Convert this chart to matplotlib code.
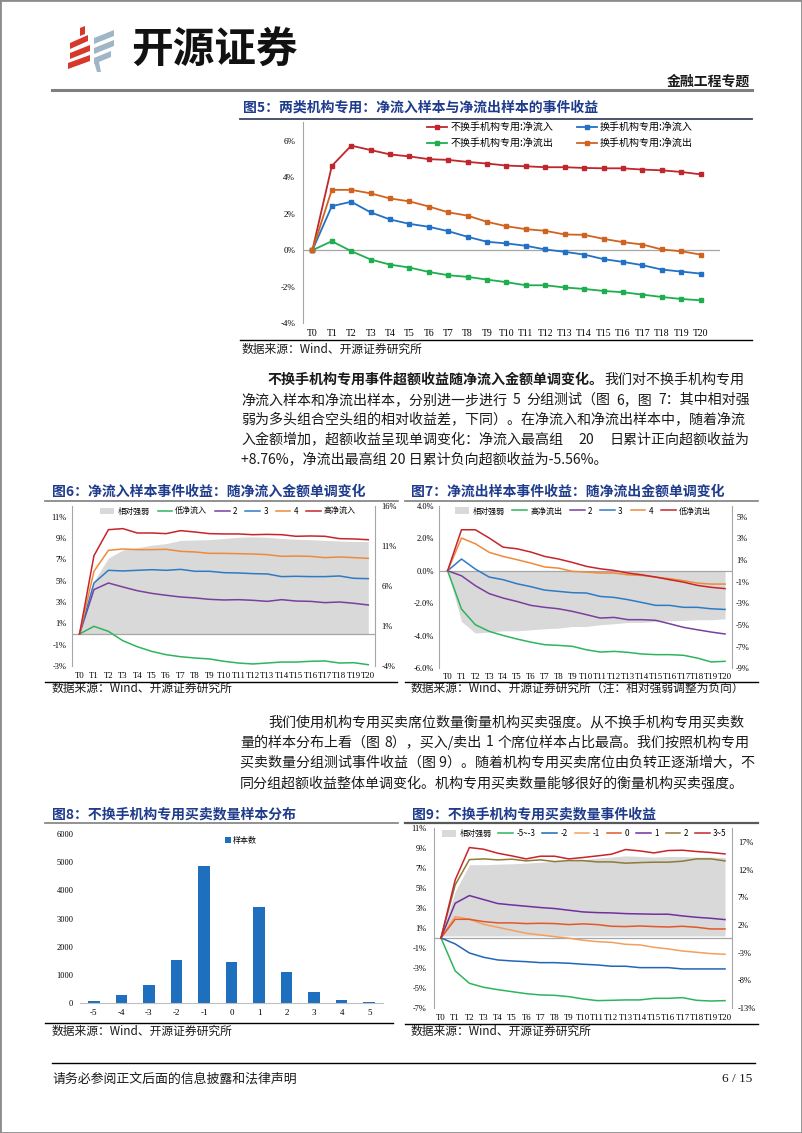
import matplotlib
matplotlib.use('Agg')
import matplotlib.pyplot as plt
from matplotlib.patches import Polygon, Rectangle, Patch
from matplotlib.lines import Line2D

plt.rcParams['font.family'] = ['Noto Sans CJK SC', 'DejaVu Sans']
plt.rcParams['axes.unicode_minus'] = False

W, H = 802, 1133
SERIF = ['Liberation Serif', 'DejaVu Serif']
NAVY = '#1F3B8C'
AXC = '#A6A6A6'
FILL = '#D9D9D9'
TXT = '#1A1A1A'
BODY = 10.1

# ==========================================
# 数据
# ==========================================
t_labels = [f'T{i}' for i in range(21)]

# 图5
f5_labels = ['不换手机构专用:净流入', '不换手机构专用:净流出', '换手机构专用:净流入', '换手机构专用:净流出']
f5_nochg_in = [0, 4.61, 5.72, 5.48, 5.24, 5.13, 4.98, 4.94, 4.83, 4.74, 4.63, 4.59, 4.54, 4.54, 4.50, 4.48, 4.48, 4.41, 4.37, 4.28, 4.15]
f5_nochg_out = [0, 0.49, -0.05, -0.51, -0.79, -0.95, -1.19, -1.37, -1.46, -1.61, -1.75, -1.92, -1.92, -2.04, -2.12, -2.23, -2.30, -2.43, -2.56, -2.67, -2.74]
f5_chg_in = [0, 2.41, 2.65, 2.07, 1.68, 1.44, 1.28, 1.04, 0.73, 0.46, 0.37, 0.24, 0.04, -0.09, -0.24, -0.49, -0.64, -0.82, -1.06, -1.17, -1.28]
f5_chg_out = [0, 3.30, 3.30, 3.11, 2.83, 2.67, 2.39, 2.07, 1.89, 1.55, 1.31, 1.15, 1.06, 0.86, 0.84, 0.62, 0.44, 0.31, 0.04, -0.06, -0.24]

# 图6 净流入分组
f6_labels = ['相对强弱', '低净流入', '2', '3', '4', '高净流入']
f6_spread = [0, 6.6, 9.5, 10.5, 10.8, 11.1, 11.3, 11.7, 11.75, 11.8, 11.93, 12.09, 12.15, 12.09, 11.93, 11.84, 11.8, 11.7, 11.62, 11.57, 11.55]
f6_low = [0, 0.72, 0.25, -0.63, -1.19, -1.63, -1.94, -2.13, -2.25, -2.34, -2.56, -2.72, -2.81, -2.72, -2.63, -2.63, -2.56, -2.53, -2.72, -2.69, -2.88]
f6_g2 = [0, 4.16, 4.78, 4.41, 4.06, 3.81, 3.63, 3.47, 3.38, 3.25, 3.19, 3.22, 3.16, 3.06, 3.22, 3.09, 3.06, 2.94, 3.00, 2.88, 2.72]
f6_g3 = [0, 4.78, 5.97, 5.91, 5.97, 6.03, 5.97, 6.06, 5.88, 5.88, 5.75, 5.72, 5.66, 5.63, 5.38, 5.41, 5.38, 5.38, 5.44, 5.22, 5.19]
f6_g4 = [0, 5.88, 7.84, 7.97, 7.91, 7.91, 7.94, 7.75, 7.69, 7.56, 7.56, 7.53, 7.50, 7.44, 7.28, 7.31, 7.28, 7.16, 7.22, 7.16, 7.09]
f6_high = [0, 7.34, 9.78, 9.88, 9.47, 9.47, 9.41, 9.69, 9.56, 9.41, 9.38, 9.38, 9.31, 9.34, 9.31, 9.16, 9.19, 9.16, 8.94, 8.91, 8.84]

# 图7 净流出分组
f7_labels = ['相对强弱', '高净流出', '2', '3', '4', '低净流出']
f7_spread = [0, -4.68, -5.75, -5.66, -5.54, -5.54, -5.45, -5.35, -5.29, -5.14, -5.14, -4.98, -4.89, -4.77, -4.77, -4.68, -4.62, -4.58, -4.52, -4.52, -4.43]
f7_high = [0, -2.36, -3.32, -3.73, -3.98, -4.20, -4.39, -4.55, -4.59, -4.65, -4.86, -5.00, -4.96, -5.02, -5.12, -5.16, -5.16, -5.20, -5.37, -5.61, -5.57]
f7_g2 = [0, -0.31, -0.92, -1.41, -1.68, -1.89, -2.13, -2.25, -2.34, -2.50, -2.70, -2.91, -2.87, -3.01, -3.01, -3.05, -3.26, -3.48, -3.63, -3.77, -3.89]
f7_g3 = [0, 0.72, 0.10, -0.39, -0.55, -0.80, -0.98, -1.19, -1.27, -1.35, -1.37, -1.58, -1.64, -1.78, -1.95, -2.13, -2.13, -2.25, -2.25, -2.34, -2.38]
f7_g4 = [0, 2.01, 1.66, 1.13, 0.88, 0.68, 0.47, 0.23, 0.16, -0.04, -0.08, -0.14, -0.14, -0.25, -0.29, -0.39, -0.49, -0.61, -0.76, -0.82, -0.82]
f7_low = [0, 2.52, 2.52, 2.01, 1.45, 1.35, 1.15, 0.88, 0.72, 0.51, 0.27, 0.12, 0.02, -0.14, -0.25, -0.39, -0.55, -0.70, -0.90, -1.02, -1.10]

# 图8 买卖数量样本分布
f8_cats = ['-5', '-4', '-3', '-2', '-1', '0', '1', '2', '3', '4', '5']
f8_counts = [60, 273, 618, 1532, 4858, 1437, 3408, 1081, 380, 107, 36]

# 图9 买卖数量分组
f9_labels = ['相对强弱', '-5~-3', '-2', '-1', '0', '1', '2', '3~5']
f9_spread = [0, 8.05, 12.9, 12.9, 13.0, 13.07, 13.19, 13.37, 13.49, 13.6, 13.79, 14.1, 14.28, 14.52, 14.4, 14.28, 14.4, 14.4, 14.28, 14.28, 14.22]
f9_m5 = [0, -3.31, -4.55, -4.95, -5.19, -5.39, -5.59, -5.72, -5.76, -5.89, -6.12, -6.29, -6.26, -6.22, -6.22, -6.06, -6.06, -5.99, -6.26, -6.33, -6.29]
f9_m2 = [0, -0.60, -1.51, -1.94, -2.21, -2.31, -2.38, -2.48, -2.48, -2.54, -2.64, -2.71, -2.84, -2.84, -2.98, -2.98, -2.98, -3.11, -3.11, -3.11, -3.11]
f9_m1 = [0, 2.14, 1.87, 1.37, 1.07, 0.77, 0.47, 0.30, 0.13, -0.03, -0.23, -0.37, -0.44, -0.64, -0.70, -0.94, -1.10, -1.31, -1.44, -1.57, -1.64]
f9_z0 = [0, 1.87, 1.87, 1.64, 1.51, 1.51, 1.44, 1.47, 1.44, 1.34, 1.41, 1.34, 1.17, 1.14, 1.20, 1.14, 1.10, 1.17, 1.07, 0.90, 0.90]
f9_p1 = [0, 3.48, 4.25, 3.85, 3.45, 3.31, 3.18, 3.05, 2.95, 2.78, 2.61, 2.54, 2.51, 2.44, 2.41, 2.38, 2.38, 2.21, 2.07, 1.97, 1.84]
f9_p2 = [0, 5.32, 7.86, 7.93, 7.83, 7.90, 7.73, 7.83, 7.66, 7.76, 7.76, 7.63, 7.63, 7.50, 7.56, 7.60, 7.60, 7.70, 7.93, 7.93, 7.73]
f9_p35 = [0, 5.82, 9.07, 8.90, 8.50, 8.23, 7.93, 8.20, 8.20, 7.93, 8.07, 8.23, 8.40, 8.87, 8.73, 8.53, 8.77, 8.80, 8.67, 8.57, 8.43]

# ==========================================
# 辅助函数 (像素坐标 -> figure 坐标)
# ==========================================
fig = plt.figure(figsize=(W / 100, H / 100), dpi=100)
renderer = fig.canvas.get_renderer()


def fx(x):
    return x / W


def fy(y):
    return 1 - y / H


def px_rect(x0, y0, x1, y1):
    return [x0 / W, 1 - y1 / H, (x1 - x0) / W, (y1 - y0) / H]


def ftext(x, y, s, **kw):
    kw.setdefault('va', 'center')
    kw.setdefault('color', TXT)
    return fig.text(fx(x), fy(y), s, **kw)


def hline(x0, x1, y, color='black', lw=1.0):
    fig.add_artist(Line2D([fx(x0), fx(x1)], [fy(y), fy(y)], transform=fig.transFigure, color=color, lw=lw))


def para_line(x0, x1, y, text, size=BODY, justify=True):
    # 按空格拆段，两端对齐；放不下就按原样输出
    segs = text.split(' ')
    if not justify or len(segs) == 1:
        ftext(x0, y, text, fontsize=size)
        return
    items = []
    for s in segs:
        t = ftext(x0, y, s, fontsize=size)
        items.append((t, t.get_window_extent(renderer).width))
    gap = (x1 - x0 - sum(w for _, w in items)) / (len(items) - 1)
    if gap < 3:
        for t, _ in items:
            t.remove()
        ftext(x0, y, text, fontsize=size)
        return
    x = x0
    for t, w in items:
        t.set_x(fx(x))
        x += w + gap


def style_axes(ax, xlim, ylim, yticks, fmt, ysize, xsize, xpad, ypad, left=True):
    ax.set_xlim(*xlim)
    ax.set_ylim(*ylim)
    ax.set_yticks(yticks, labels=[fmt(v) for v in yticks], fontsize=ysize, fontfamily=SERIF)
    ax.set_xticks(range(21), labels=t_labels, fontsize=xsize, fontfamily=SERIF)
    ax.tick_params(length=0)
    ax.tick_params(axis='x', pad=xpad)
    ax.tick_params(axis='y', pad=ypad)
    for s in ['top', 'right', 'bottom']:
        ax.spines[s].set_visible(False)
    ax.spines['left'].set_visible(left)
    ax.spines['left'].set_color(AXC)
    ax.axhline(0, color=AXC, lw=0.9, zorder=1)


def style_right(axr, ylim, yticks, fmt, size, pad):
    axr.set_ylim(*ylim)
    axr.set_yticks(yticks, labels=[fmt(v) for v in yticks], fontsize=size, fontfamily=SERIF)
    axr.tick_params(length=0, pad=pad)
    for s in ['top', 'left', 'bottom']:
        axr.spines[s].set_visible(False)
    axr.spines['right'].set_color(AXC)


pct0 = lambda v: f'{v:.0f}%'
pct1 = lambda v: f'{v:.1f}%'

# ==========================================
# 页眉 / 页脚 / 边框
# ==========================================
fig.add_artist(Rectangle((0, 0), 1, 1, transform=fig.transFigure, fill=False, edgecolor='#8C8C8C', lw=2))

red_strips = [[(70, 43), (88, 35), (88, 41), (70, 49)],
              [(70, 53), (90, 45), (90, 51), (70, 59)],
              [(68, 63), (90, 55), (90, 61), (68, 69)],
              [(80, 28), (85, 26), (85, 34), (80, 36)]]
blue_strips = [[(94, 38), (114, 30), (114, 36), (94, 44)],
               [(94, 48), (114, 40), (114, 46), (94, 54)],
               [(94, 58), (111, 51), (111, 57), (94, 64)],
               [(94, 62), (99, 62), (101, 72), (97, 72)]]
for pts in red_strips:
    fig.add_artist(Polygon([(fx(x), fy(y)) for x, y in pts], closed=True, transform=fig.transFigure, color='#D8372C', lw=0))
for pts in blue_strips:
    fig.add_artist(Polygon([(fx(x), fy(y)) for x, y in pts], closed=True, transform=fig.transFigure, color='#9FB6C6', lw=0))
ftext(131, 51, '开源证券', fontsize=30, fontweight='bold', color='#111111')
ftext(750, 82, '金融工程专题', fontsize=10, fontweight='bold', ha='right')
hline(52, 752, 89.5, color='#7F7F7F', lw=2.2)

hline(52, 755, 1063, color='black', lw=1.0)
ftext(52, 1079, '请务必参阅正文后面的信息披露和法律声明', fontsize=9.3)
ftext(752, 1079, '6 / 15', fontsize=9.5, ha='right', fontfamily=SERIF)

# ==========================================
# 图5
# ==========================================
ftext(243, 108, '图5：两类机构专用：净流入样本与净流出样本的事件收益', fontsize=10, fontweight='bold', color=NAVY)
hline(240, 752, 118.5, color='#3A4560', lw=1.3)

ax5 = fig.add_axes(px_rect(302.7, 122.25, 720, 323.3))
ax5.patch.set_visible(False)
f5_series = [f5_nochg_in, f5_nochg_out, f5_chg_in, f5_chg_out]
f5_colors = ['#C0262D', '#1FAE4F', '#2271C4', '#CF6420']
for vals, lab, c in zip(f5_series, f5_labels, f5_colors):
    ax5.plot(range(21), vals, color=c, lw=1.3, marker='s', ms=2.8, label=lab, zorder=3)
style_axes(ax5, (-0.5, 21), (-4, 7), [-4, -2, 0, 2, 4, 6], pct0, 6.5, 7, 4.3, 5.5)
ax5.legend(ncol=2, loc='upper right', bbox_to_anchor=((693 - 302.7) / 417.3, 1.0), frameon=False,
           fontsize=7.2, handlelength=2.0, columnspacing=2.4, handletextpad=0.3, labelspacing=0.6,
           borderaxespad=0, borderpad=0)

hline(240, 752, 340.5)
ftext(242, 349, '数据来源：Wind、开源证券研究所', fontsize=8.5)

# ==========================================
# 正文段落 1
# ==========================================
t_bold = ftext(268, 380, '不换手机构专用事件超额收益随净流入金额单调变化。', fontsize=BODY, fontweight='bold')
wb = t_bold.get_window_extent(renderer).width
ftext(268 + wb, 380, '我们对不换手机构专用', fontsize=BODY)
para_line(241, 750, 400, '净流入样本和净流出样本，分别进一步进行 5 分组测试（图 6，图 7：其中相对强')
para_line(241, 750, 420, '弱为多头组合空头组的相对收益差，下同）。在净流入和净流出样本中，随着净流')
para_line(241, 750, 440, '入金额增加，超额收益呈现单调变化：净流入最高组 20 日累计正向超额收益为')
para_line(241, 750, 460, '+8.76%，净流出最高组 20 日累计负向超额收益为-5.56%。', justify=False)

# ==========================================
# 图6 / 图7
# ==========================================
line_cols = ['#2DB55D', '#7B3F9E', '#2E7BC4', '#EE8A3C', '#C8242B']


def event_panel(rect, spread, series, labels, xlim, lylim, lticks, lfmt, rylim, rticks, lpad, rpad, xpad, legx, legy):
    ax = fig.add_axes(rect)
    axr = ax.twinx()
    axr.fill_between(range(21), 0, spread, color=FILL, lw=0)
    ax.set_zorder(axr.get_zorder() + 1)
    ax.patch.set_visible(False)
    handles = [Patch(facecolor=FILL, edgecolor='none')]
    for vals, c in zip(series, line_cols):
        h, = ax.plot(range(21), vals, color=c, lw=1.1, zorder=3)
        handles.append(h)
    style_axes(ax, xlim, lylim, lticks, lfmt, 6, 6.3, xpad, lpad)
    style_right(axr, rylim, rticks, pct0, 6, rpad)
    ax.legend(handles, labels, ncol=len(labels), loc='upper center', bbox_to_anchor=(legx, legy),
              frameon=False, fontsize=5.8, handlelength=1.8, handleheight=0.9, columnspacing=1.0,
              handletextpad=0.4, borderaxespad=0, borderpad=0)
    return ax


ftext(52, 491.7, '图6：净流入样本事件收益：随净流入金额单调变化', fontsize=10, fontweight='bold', color=NAVY)
hline(45, 398, 501, color='#7F7F7F', lw=1.2)
event_panel(px_rect(72.3, 506, 375.5, 666), f6_spread, [f6_low, f6_g2, f6_g3, f6_g4, f6_high], f6_labels,
            (-0.5, 20.5), (-3, 12), [-3, -1, 1, 3, 5, 7, 9, 11], pct0, (-4, 16), [-4, 1, 6, 11, 16],
            4.0, 4.5, 4.0, 0.513, 0.995)
hline(45, 397, 681.5)
ftext(52, 688.5, '数据来源：Wind、开源证券研究所', fontsize=8.5)

ftext(411, 491.7, '图7：净流出样本事件收益：随净流出金额单调变化', fontsize=10, fontweight='bold', color=NAVY)
hline(405, 758, 501, color='#7F7F7F', lw=1.2)
event_panel(px_rect(439.3, 505.7, 732, 668.3), f7_spread, [f7_high, f7_g2, f7_g3, f7_g4, f7_low], f7_labels,
            (-0.6, 20.5), (-6, 4), [-6, -4, -2, 0, 2, 4], pct1, (-9, 6), [-9, -7, -5, -3, -1, 1, 3, 5],
            3.6, 3.0, 3.2, 0.49, 0.995)
hline(405, 758, 681.5)
ftext(411, 688.5, '数据来源：Wind、开源证券研究所（注：相对强弱调整为负向）', fontsize=8.5)

# ==========================================
# 正文段落 2
# ==========================================
para_line(268, 750, 722, '我们使用机构专用买卖席位数量衡量机构买卖强度。从不换手机构专用买卖数', justify=False)
para_line(240, 750, 742.5, '量的样本分布上看（图 8），买入/卖出 1 个席位样本占比最高。我们按照机构专用')
para_line(240, 750, 763, '买卖数量分组测试事件收益（图 9）。随着机构专用买卖席位由负转正逐渐增大，不')
para_line(240, 750, 783.5, '同分组超额收益整体单调变化。机构专用买卖数量能够很好的衡量机构买卖强度。', justify=False)

# ==========================================
# 图8 柱状图
# ==========================================
ftext(52, 814, '图8：不换手机构专用买卖数量样本分布', fontsize=10, fontweight='bold', color=NAVY)
hline(45, 398, 823, color='#7F7F7F', lw=1.2)
ax8 = fig.add_axes(px_rect(80, 834.3, 383, 1002.7))
ax8.patch.set_visible(False)
ax8.bar(range(len(f8_cats)), f8_counts, width=0.42, color='#1F6FBF', label='样本数')
ax8.set_xlim(-0.5, len(f8_cats) - 0.5)
ax8.set_ylim(0, 6000)
ax8.set_yticks(range(0, 6001, 1000), labels=[str(v) for v in range(0, 6001, 1000)], fontsize=6, fontfamily=SERIF)
ax8.set_xticks(range(len(f8_cats)), labels=f8_cats, fontsize=6.5, fontfamily=SERIF)
ax8.tick_params(length=0)
ax8.tick_params(axis='x', pad=4.8)
ax8.tick_params(axis='y', pad=4.8)
for s in ['top', 'right', 'left']:
    ax8.spines[s].set_visible(False)
ax8.spines['bottom'].set_color('#BFBFBF')
ax8.legend(loc='upper center', bbox_to_anchor=((241 - 80) / 303, 0.99), frameon=False, fontsize=5.8,
           handlelength=0.7, handleheight=0.7, handletextpad=0.3, borderaxespad=0, borderpad=0)
hline(45, 393, 1022.5)
ftext(52, 1031.5, '数据来源：Wind、开源证券研究所', fontsize=8.5)

# ==========================================
# 图9
# ==========================================
ftext(412, 814, '图9：不换手机构专用买卖数量事件收益', fontsize=10, fontweight='bold', color=NAVY)
hline(405, 758, 823, color='#595959', lw=1.6)
ax9 = fig.add_axes(px_rect(434.3, 828.3, 731.7, 1007.7))
ax9r = ax9.twinx()
ax9r.fill_between(range(21), 0, f9_spread, color=FILL, lw=0)
ax9.set_zorder(ax9r.get_zorder() + 1)
ax9.patch.set_visible(False)
f9_series = [f9_m5, f9_m2, f9_m1, f9_z0, f9_p1, f9_p2, f9_p35]
f9_colors = ['#2DB55D', '#2166B8', '#F0A060', '#E2582A', '#7030A0', '#8C7B3A', '#C8242B']
h9 = [Patch(facecolor=FILL, edgecolor='none')]
for vals, c in zip(f9_series, f9_colors):
    h, = ax9.plot(range(21), vals, color=c, lw=1.1, zorder=3)
    h9.append(h)
style_axes(ax9, (-0.47, 20.47), (-7, 11), [-7, -5, -3, -1, 1, 3, 5, 7, 9, 11], pct0, 6, 6.3, 4.5, 5.5)
style_right(ax9r, (-13, 19.5), [-13, -8, -3, 2, 7, 12, 17], pct0, 6, 4.5)
ax9.legend(h9, f9_labels, ncol=len(f9_labels), loc='upper center', bbox_to_anchor=(0.503, 0.995),
           frameon=False, fontsize=5.8, handlelength=1.8, handleheight=0.9, columnspacing=0.9,
           handletextpad=0.4, borderaxespad=0, borderpad=0)
hline(405, 758, 1024)
ftext(411, 1031.5, '数据来源：Wind、开源证券研究所', fontsize=8.5)

fig.savefig('out.png', dpi=100)
